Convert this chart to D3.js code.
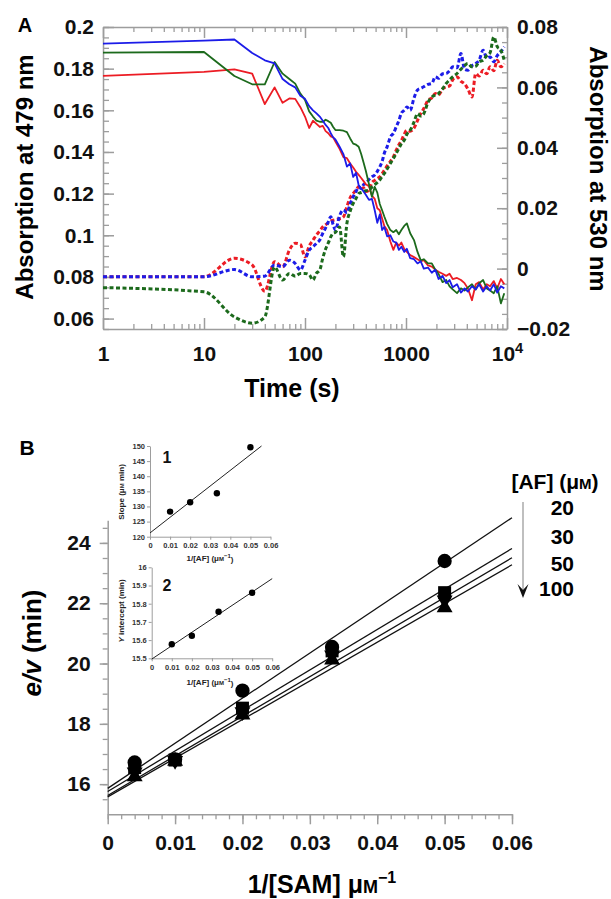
<!DOCTYPE html>
<html>
<head>
<meta charset="utf-8">
<script src="https://cdn.jsdelivr.net/npm/d3@7"></script>
<style>
  body { margin: 0; background: #fff; }
</style>
</head>
<body>
<svg id="chart" width="611" height="899"></svg>
<script>
// ---------- Panel A data: absorption vs time ----------
const timeS = [1, 10, 20, 30, 40, 50, 60, 70, 80, 90,
  100, 110, 120, 130, 140, 150, 160, 170, 180, 190, 200,
  220, 240, 260, 280, 300, 320, 340, 360, 380, 400,
  430, 460, 490, 520, 550, 580, 610,
  650, 700, 750, 800, 850, 900, 960, 1020,
  1100, 1200, 1300, 1400, 1500,
  1650, 1800, 1950, 2100,
  2300, 2500, 2700, 2900,
  3200, 3500, 3800, 4100,
  4500, 4900, 5300, 5800,
  6300, 6800, 7400, 8000, 8700, 9400];

// 479 nm traces (left axis)
const red479 = [0.1765, 0.1785, 0.1797, 0.1776, 0.163, 0.171, 0.1636, 0.1657, 0.1655, 0.1615,
  0.157, 0.1515, 0.155, 0.1535, 0.152, 0.1525, 0.150, 0.149, 0.1475, 0.147, 0.145,
  0.1415, 0.1375, 0.137, 0.1345, 0.1325, 0.1305, 0.129, 0.1275, 0.126, 0.1245,
  0.1235, 0.119, 0.1175, 0.113, 0.112, 0.108, 0.1045,
  0.1025, 0.097, 0.093, 0.0965, 0.095, 0.0965, 0.0935, 0.092,
  0.0905, 0.0895, 0.0885, 0.0875, 0.088,
  0.0855, 0.085, 0.0835, 0.0825,
  0.0815, 0.0805, 0.0815, 0.079,
  0.0795, 0.0785, 0.077, 0.0745,
  0.0688, 0.0765, 0.0775, 0.074,
  0.0765, 0.0755, 0.078, 0.0745, 0.079, 0.0765];
const blue479 = [0.192, 0.1935, 0.194, 0.1875, 0.184, 0.1825, 0.175, 0.1725, 0.171, 0.167,
  0.1655, 0.162, 0.160, 0.1585, 0.157, 0.155, 0.153, 0.1515, 0.149, 0.147, 0.146,
  0.1425, 0.139, 0.133, 0.1345, 0.128, 0.130, 0.124, 0.1225, 0.121, 0.1195,
  0.117, 0.1175, 0.112, 0.106, 0.110, 0.1025, 0.104,
  0.0995, 0.100, 0.097, 0.0965, 0.093, 0.0945, 0.092, 0.0935,
  0.089, 0.0885, 0.0865, 0.0875, 0.084,
  0.0845, 0.082, 0.0835, 0.079,
  0.0805, 0.077, 0.0785, 0.075,
  0.0765, 0.0725, 0.0745, 0.073,
  0.0755, 0.074, 0.0765, 0.073,
  0.0755, 0.0735, 0.0765, 0.0725, 0.0755, 0.0745];
const green479 = [0.1877, 0.188, 0.1765, 0.1725, 0.1725, 0.1832, 0.1776, 0.175, 0.1728, 0.168,
  0.165, 0.1595, 0.157, 0.155, 0.1545, 0.1544, 0.1555, 0.1548, 0.154, 0.152, 0.1505,
  0.1505, 0.1502, 0.1495, 0.1465, 0.144, 0.1435, 0.1425, 0.139, 0.135, 0.131,
  0.1245, 0.1185, 0.1233, 0.1205, 0.115, 0.112, 0.109,
  0.1055, 0.1025, 0.1015, 0.1025, 0.1005, 0.1025, 0.1045, 0.1057,
  0.101, 0.0977, 0.092, 0.088, 0.0885,
  0.0865, 0.0865, 0.0835, 0.0815,
  0.0775, 0.0785, 0.0755, 0.074,
  0.0722, 0.0745, 0.0735, 0.075,
  0.0765, 0.074, 0.077, 0.0785,
  0.0745, 0.0735, 0.0722, 0.0755, 0.0673, 0.0722];

// 530 nm traces (right axis)
const red530 = [-0.0027, -0.0027, 0.0034, 0.0012, -0.0075, 0.0023, 0.0006, 0.0061, 0.0084, 0.008,
  0.0039, 0.0075, 0.0094, 0.0112, 0.0125, 0.0138, 0.0145, 0.0152, 0.0158, 0.016, 0.0162,
  0.0165, 0.0171, 0.0205, 0.0235, 0.0249, 0.026, 0.0271, 0.0262, 0.0268, 0.0255,
  0.026, 0.0285, 0.0292, 0.0298, 0.0304, 0.0315, 0.0326,
  0.034, 0.0355, 0.037, 0.0392, 0.041, 0.0424, 0.0445, 0.0458,
  0.0455, 0.0465, 0.049, 0.0513, 0.053,
  0.0557, 0.0565, 0.058, 0.0575,
  0.0595, 0.0602, 0.0605, 0.0625,
  0.0635, 0.062, 0.0612, 0.0595,
  0.0568, 0.0646, 0.0638, 0.0657,
  0.0645, 0.0668, 0.0655, 0.069, 0.0668, 0.0679];
const blue530 = [-0.0027, -0.0027, -0.0003, -0.0027, -0.0025, 0.0012, 0.0006, 0.0028, 0.0017, -0.0005,
  0.0028, 0.0061, 0.0072, 0.0084, 0.0095, 0.0117, 0.0135, 0.0155, 0.0172, 0.0145, 0.0128,
  0.0175, 0.0194, 0.0185, 0.0215, 0.0238, 0.0255, 0.0271, 0.0265, 0.0278, 0.0282,
  0.0295, 0.0304, 0.031, 0.0322, 0.0337, 0.0355, 0.0382,
  0.0403, 0.0436, 0.0448, 0.0469, 0.049, 0.0515, 0.0524, 0.0535,
  0.0524, 0.0565, 0.0591, 0.0597, 0.0602,
  0.061, 0.0613, 0.0635, 0.063,
  0.0645, 0.0646, 0.0655, 0.0668,
  0.0665, 0.0712, 0.066, 0.0657,
  0.0672, 0.0679, 0.069, 0.0723,
  0.0698, 0.0701, 0.0685, 0.0705, 0.0718, 0.0734];
const green530 = [-0.0063, -0.0077, -0.016, -0.0181, -0.016, 0.0005, -0.0038, -0.0016, -0.0025, -0.0016,
  -0.0016, -0.002, -0.0038, -0.0015, -0.0005, 0.0035, 0.0065, 0.0085, 0.0105, 0.0117, 0.012,
  0.0138, 0.0039, 0.015, 0.019, 0.0216, 0.0232, 0.0249, 0.0252, 0.0255, 0.0258,
  0.026, 0.027, 0.0278, 0.0285, 0.0293, 0.0305, 0.0315,
  0.033, 0.0348, 0.0365, 0.0381, 0.0398, 0.0414, 0.0425, 0.0445,
  0.0458, 0.0485, 0.0513, 0.0505, 0.0513,
  0.055, 0.0568, 0.0575, 0.058,
  0.0595, 0.0613, 0.0625, 0.0635,
  0.0646, 0.066, 0.0672, 0.0679,
  0.0668, 0.067, 0.0685, 0.069,
  0.0705, 0.0715, 0.0767, 0.0735, 0.0723, 0.069];

const timeTicks = [1, 10, 100, 1000, 10000];
const timeTickLabels = ['1', '10', '100', '1000', '10^4'];
const leftTicks = [0.06, 0.08, 0.1, 0.12, 0.14, 0.16, 0.18, 0.2];
const leftTickLabels = ['0.06', '0.08', '0.1', '0.12', '0.14', '0.16', '0.18', '0.2'];
const rightTicks = [-0.02, 0, 0.02, 0.04, 0.06, 0.08];
const rightTickLabels = ['\u22120.02', '0', '0.02', '0.04', '0.06', '0.08'];

// ---------- Panel B data: e/v vs 1/[SAM] ----------
const samInv = [0.004, 0.01, 0.02, 0.0333, 0.05];
const afConc = [20, 30, 50, 100];
const ev20 = [16.72, 16.82, 19.1, 20.55, 23.4];
const ev30 = [16.55, 16.8, 18.52, 20.42, 22.35];
const ev50 = [16.4, 16.78, 18.4, 20.28, 22.1];
const ev100 = [16.25, 16.76, 18.3, 20.12, 21.85];
const samTicks = [0, 0.01, 0.02, 0.03, 0.04, 0.05, 0.06];
const samTickLabels = ['0', '0.01', '0.02', '0.03', '0.04', '0.05', '0.06'];
const evTicks = [16, 18, 20, 22, 24];

// insets (replots of slope and intercept against 1/[AF])
const afInv = [0.01, 0.02, 0.0333, 0.05];
const slopeVals = [128.3, 131.4, 134.35, 149.6];
const interceptVals = [15.577, 15.624, 15.756, 15.86];
const afInvTicks = [0, 0.01, 0.02, 0.03, 0.04, 0.05, 0.06];
const afInvTickLabels = ['0', '0.01', '0.02', '0.03', '0.04', '0.05', '0.06'];
const slopeTicks = [120, 125, 130, 135, 140, 145, 150];
const interceptTicks = [15.5, 15.6, 15.7, 15.8, 15.9, 16];
const interceptTickLabels = ['15.5', '15.6', '15.7', '15.8', '15.9', '16'];

// ---------- drawing ----------
const svg = d3.select('#chart');
const axisGray = '#9d9d9d';
const fontFam = '"Liberation Sans", Arial, Helvetica, sans-serif';
svg.attr('font-family', fontFam).attr('font-weight', 'bold');

function styleAxis(g, size, sw) {
    g.attr('font-family', fontFam).attr('font-size', size).attr('font-weight', 'bold');
    g.select('.domain').attr('stroke', axisGray).attr('stroke-width', sw);
    g.selectAll('.tick line').attr('stroke', axisGray).attr('stroke-width', sw);
    g.selectAll('.tick text').attr('fill', '#111');
}
function minorStyle(g, sw) {
    g.select('.domain').remove();
    g.selectAll('.tick line').attr('stroke', axisGray).attr('stroke-width', sw);
}

// ===== Panel A =====
const xA = d3.scaleLog().domain([1, 1e4]).range([103, 507]);
const yL = d3.scaleLinear().domain([0.055, 0.2]).range([329, 27]);
const yR = d3.scaleLinear().domain([-0.02, 0.08]).range([329, 27]);

const minorTimes = [];
[1, 10, 100, 1000].forEach(p => { for (let k = 2; k < 10; k++) minorTimes.push(p * k); });
const minorLeft = d3.range(11, 41).map(k => k * 0.005);
const minorRight = d3.range(-4, 17).map(k => k * 0.005);

const gA = svg.append('g');

const xAxisA = gA.append('g')
    .attr('transform', 'translate(0,329)')
    .call(d3.axisBottom(xA).tickValues(timeTicks).tickFormat((d, i) => timeTickLabels[i])
        .tickSize(-11).tickSizeOuter(0).tickPadding(17));
styleAxis(xAxisA, 21, 1.5);
xAxisA.selectAll('.tick text').each(function (d, i) {
    const s = timeTickLabels[i];
    if (s.includes('^')) {
        const parts = s.split('^');
        const t = d3.select(this).text(parts[0]);
        t.append('tspan').attr('dy', '-0.55em').attr('font-size', '0.7em').text(parts[1]);
    }
});
gA.append('g').attr('transform', 'translate(0,329)')
    .call(d3.axisBottom(xA).tickValues(minorTimes).tickFormat('').tickSize(-5).tickSizeOuter(0))
    .call(g => minorStyle(g, 1.3));

const topAxisA = gA.append('g').attr('transform', 'translate(0,27)')
    .call(d3.axisTop(xA).tickValues(timeTicks).tickFormat('').tickSize(-11).tickSizeOuter(0));
styleAxis(topAxisA, 10, 1.5);
gA.append('g').attr('transform', 'translate(0,27)')
    .call(d3.axisTop(xA).tickValues(minorTimes).tickFormat('').tickSize(-5).tickSizeOuter(0))
    .call(g => minorStyle(g, 1.3));

const leftAxisA = gA.append('g').attr('transform', 'translate(103,0)')
    .call(d3.axisLeft(yL).tickValues(leftTicks).tickFormat((d, i) => leftTickLabels[i])
        .tickSize(-11).tickSizeOuter(0).tickPadding(9));
styleAxis(leftAxisA, 21, 1.5);
gA.append('g').attr('transform', 'translate(103,0)')
    .call(d3.axisLeft(yL).tickValues(minorLeft).tickFormat('').tickSize(-6).tickSizeOuter(0))
    .call(g => minorStyle(g, 1.3));

const rightAxisA = gA.append('g').attr('transform', 'translate(507,0)')
    .call(d3.axisRight(yR).tickValues(rightTicks).tickFormat((d, i) => rightTickLabels[i])
        .tickSize(-10).tickSizeOuter(0).tickPadding(10));
styleAxis(rightAxisA, 21, 1.5);
gA.append('g').attr('transform', 'translate(507,0)')
    .call(d3.axisRight(yR).tickValues(minorRight).tickFormat('').tickSize(-5).tickSizeOuter(0))
    .call(g => minorStyle(g, 1.3));

const colRed = '#ec1c24', colBlue = '#1c1ce8', colGreen = '#1c6a1c';

const dottedSeries = [
    { vals: red530, color: colRed },
    { vals: blue530, color: colBlue },
    { vals: green530, color: colGreen }
];
const solidSeries = [
    { vals: red479, color: colRed },
    { vals: green479, color: colGreen },
    { vals: blue479, color: colBlue }
];

const dotLine = d3.line().x((d, i) => xA(timeS[i])).y(d => yR(d)).curve(d3.curveMonotoneX);
const solLine = d3.line().x((d, i) => xA(timeS[i])).y(d => yL(d));

gA.selectAll('.dotted').data(dottedSeries).join('path')
    .attr('class', 'dotted')
    .attr('d', d => dotLine(d.vals))
    .attr('fill', 'none').attr('stroke', d => d.color)
    .attr('stroke-width', 3).attr('stroke-dasharray', '4,2.5');

gA.selectAll('.solid').data(solidSeries).join('path')
    .attr('class', 'solid')
    .attr('d', d => solLine(d.vals))
    .attr('fill', 'none').attr('stroke', d => d.color)
    .attr('stroke-width', 1.8).attr('stroke-linejoin', 'round');

gA.append('text').attr('x', 25).attr('y', 32).attr('text-anchor', 'middle')
    .attr('font-size', 20).text('A');
gA.append('text').attr('transform', 'translate(25,177) rotate(-90)')
    .attr('text-anchor', 'middle').attr('dy', '0.35em').attr('font-size', 24)
    .text('Absorption at 479 nm');
gA.append('text').attr('transform', 'translate(598,169) rotate(90)')
    .attr('text-anchor', 'middle').attr('dy', '0.35em').attr('font-size', 24)
    .text('Absorption at 530 nm');
gA.append('text').attr('x', 292).attr('y', 397).attr('text-anchor', 'middle')
    .attr('font-size', 25).text('Time (s)');

// ===== Panel B =====
const xB = d3.scaleLinear().domain([0, 0.06]).range([107.7, 512]);
const yB = d3.scaleLinear().domain([15, 24.75]).range([814.3, 520.3]);
const gB = svg.append('g');

const xAxisB = gB.append('g').attr('transform', 'translate(0,814.3)')
    .call(d3.axisBottom(xB).tickValues(samTicks).tickFormat((d, i) => samTickLabels[i])
        .tickSize(10).tickSizeOuter(0).tickPadding(11));
styleAxis(xAxisB, 21, 1.5);
gB.append('g').attr('transform', 'translate(0,814.3)')
    .call(d3.axisBottom(xB).tickValues(d3.range(0, 31).map(k => k * 0.002)).tickFormat('').tickSize(5).tickSizeOuter(0))
    .call(g => minorStyle(g, 1.3));

const yAxisB = gB.append('g').attr('transform', 'translate(107.7,0)')
    .call(d3.axisLeft(yB).tickValues(evTicks).tickSize(8).tickSizeOuter(0).tickPadding(9));
styleAxis(yAxisB, 21, 1.5);
gB.append('g').attr('transform', 'translate(107.7,0)')
    .call(d3.axisLeft(yB).tickValues(d3.range(31, 50).map(k => k * 0.5)).tickFormat('').tickSize(5).tickSizeOuter(0))
    .call(g => minorStyle(g, 1.3));

// fitted lines: slope and intercept from the replots
const fitLines = afConc.map(c => {
    const idx = afInv.findIndex(v => Math.abs(v - 1 / c) < 0.002);
    return { slope: slopeVals[idx], icpt: interceptVals[idx] };
});
gB.selectAll('.fit').data(fitLines).join('line')
    .attr('class', 'fit')
    .attr('x1', xB(0)).attr('y1', d => yB(d.icpt))
    .attr('x2', xB(0.06)).attr('y2', d => yB(d.icpt + d.slope * 0.06))
    .attr('stroke', '#111').attr('stroke-width', 1.3);

const markerSeries = [
    { vals: ev100, type: d3.symbolTriangle, size: 110, rot: 0 },
    { vals: ev50, type: d3.symbolTriangle, size: 110, rot: 180 },
    { vals: ev30, type: d3.symbolSquare, size: 169, rot: 0 },
    { vals: ev20, type: d3.symbolCircle, size: 160, rot: 0 }
];
markerSeries.forEach(s => {
    gB.append('g').selectAll('path').data(s.vals).join('path')
        .attr('d', d3.symbol().type(s.type).size(s.size))
        .attr('transform', (d, i) => `translate(${xB(samInv[i])},${yB(d)}) rotate(${s.rot})`)
        .attr('fill', '#000');
});

// legend
gB.append('text').attr('x', 555).attr('y', 489).attr('text-anchor', 'middle').attr('font-size', 21)
    .call(t => {
        t.append('tspan').text('[AF] (\u03bc');
        t.append('tspan').attr('font-size', 15).text('M');
        t.append('tspan').text(')');
    });
const legendY = [508, 537, 564, 589];
gB.selectAll('.leg').data(afConc).join('text')
    .attr('class', 'leg')
    .attr('x', 574).attr('y', (d, i) => legendY[i]).attr('dy', '0.35em')
    .attr('text-anchor', 'end').attr('font-size', 21).text(d => d);
gB.append('line').attr('x1', 523).attr('x2', 523).attr('y1', 502).attr('y2', 594)
    .attr('stroke', '#aaa').attr('stroke-width', 1.5);
gB.append('path').attr('d', 'M517.5,584 L523,598 L528.5,584 L523,590 Z').attr('fill', '#111');

// titles
gB.append('text').attr('x', 27).attr('y', 455).attr('text-anchor', 'middle')
    .attr('font-size', 21).text('B');
gB.append('text').attr('transform', 'translate(32,643) rotate(-90)')
    .attr('text-anchor', 'middle').attr('dy', '0.35em').attr('font-size', 26)
    .call(t => {
        t.append('tspan').attr('font-style', 'italic').text('e/v');
        t.append('tspan').text(' (min)');
    });
gB.append('text').attr('x', 322).attr('y', 893).attr('text-anchor', 'middle').attr('font-size', 25)
    .call(t => {
        t.append('tspan').text('1/[SAM] \u03bc');
        t.append('tspan').attr('font-size', 18).text('M');
        t.append('tspan').attr('dy', '-0.6em').attr('font-size', 16).text('\u22121');
    });

// ===== insets =====
function linFit(xs, ys) {
    const mx = d3.mean(xs), my = d3.mean(ys);
    const sxy = d3.sum(xs, (x, i) => (x - mx) * (ys[i] - my));
    const sxx = d3.sum(xs, x => (x - mx) * (x - mx));
    const m = sxy / sxx;
    return { m: m, b: my - m * mx };
}

function drawInset(o) {
    const g = svg.append('g');
    const x = d3.scaleLinear().domain([0, 0.06]).range([o.x0, o.x0 + 120.5]);
    const y = d3.scaleLinear().domain(o.yDom).range([o.y0, o.y0 - o.h]);

    const xa = g.append('g').attr('transform', `translate(0,${o.y0})`)
        .call(d3.axisBottom(x).tickValues(afInvTicks).tickFormat((d, i) => afInvTickLabels[i])
            .tickSize(3).tickSizeOuter(0).tickPadding(3));
    styleAxis(xa, 7.5, 1);
    const ya = g.append('g').attr('transform', `translate(${o.x0},0)`)
        .call(d3.axisLeft(y).tickValues(o.yTicks).tickFormat((d, i) => o.yLabels[i])
            .tickSize(3).tickSizeOuter(0).tickPadding(2));
    styleAxis(ya, 7.5, 1);
    g.selectAll('.tick text').attr('fill', '#333');

    const fit = linFit(afInv, o.vals);
    const xEnd = Math.min(0.06, (o.yDom[1] - fit.b) / fit.m);
    g.append('line')
        .attr('x1', x(0)).attr('y1', y(fit.b))
        .attr('x2', x(xEnd)).attr('y2', y(fit.b + fit.m * xEnd))
        .attr('stroke', '#222').attr('stroke-width', 1);
    g.selectAll('circle').data(o.vals).join('circle')
        .attr('cx', (d, i) => x(afInv[i])).attr('cy', d => y(d)).attr('r', 3.2).attr('fill', '#000');

    g.append('text').attr('x', 167).attr('y', o.numY).attr('text-anchor', 'middle')
        .attr('font-size', 16).attr('fill', '#111').text(o.num);
    g.append('text').attr('x', 210).attr('y', o.xTitleY).attr('text-anchor', 'middle')
        .attr('font-size', 8).attr('fill', '#222')
        .call(t => {
            t.append('tspan').text('1/[AF] (\u03bc');
            t.append('tspan').attr('font-size', 6).text('M');
            t.append('tspan').attr('dy', '-0.5em').attr('font-size', 6).text('\u22121');
            t.append('tspan').attr('dy', '0.5em').text(')');
        });
    g.append('text').attr('transform', `translate(121,${o.yTitleY}) rotate(-90)`)
        .attr('text-anchor', 'middle').attr('dy', '0.35em').attr('font-size', 8).attr('fill', '#222')
        .call(o.yTitle);
}

drawInset({
    x0: 150, y0: 536.7, h: 90.7, yDom: [120, 150],
    yTicks: slopeTicks, yLabels: slopeTicks.map(String), vals: slopeVals,
    num: '1', numY: 462.5, xTitleY: 561, yTitleY: 492,
    yTitle: t => {
        t.append('tspan').text('Slope (\u03bc');
        t.append('tspan').attr('font-size', 6).text('M');
        t.append('tspan').text(' min)');
    }
});
drawInset({
    x0: 151.7, y0: 658.3, h: 91, yDom: [15.5, 16],
    yTicks: interceptTicks, yLabels: interceptTickLabels, vals: interceptVals,
    num: '2', numY: 591, xTitleY: 685, yTitleY: 611,
    yTitle: t => {
        t.append('tspan').attr('font-style', 'italic').text('Y');
        t.append('tspan').text(' intercept (min)');
    }
});
</script>
</body>
</html>
